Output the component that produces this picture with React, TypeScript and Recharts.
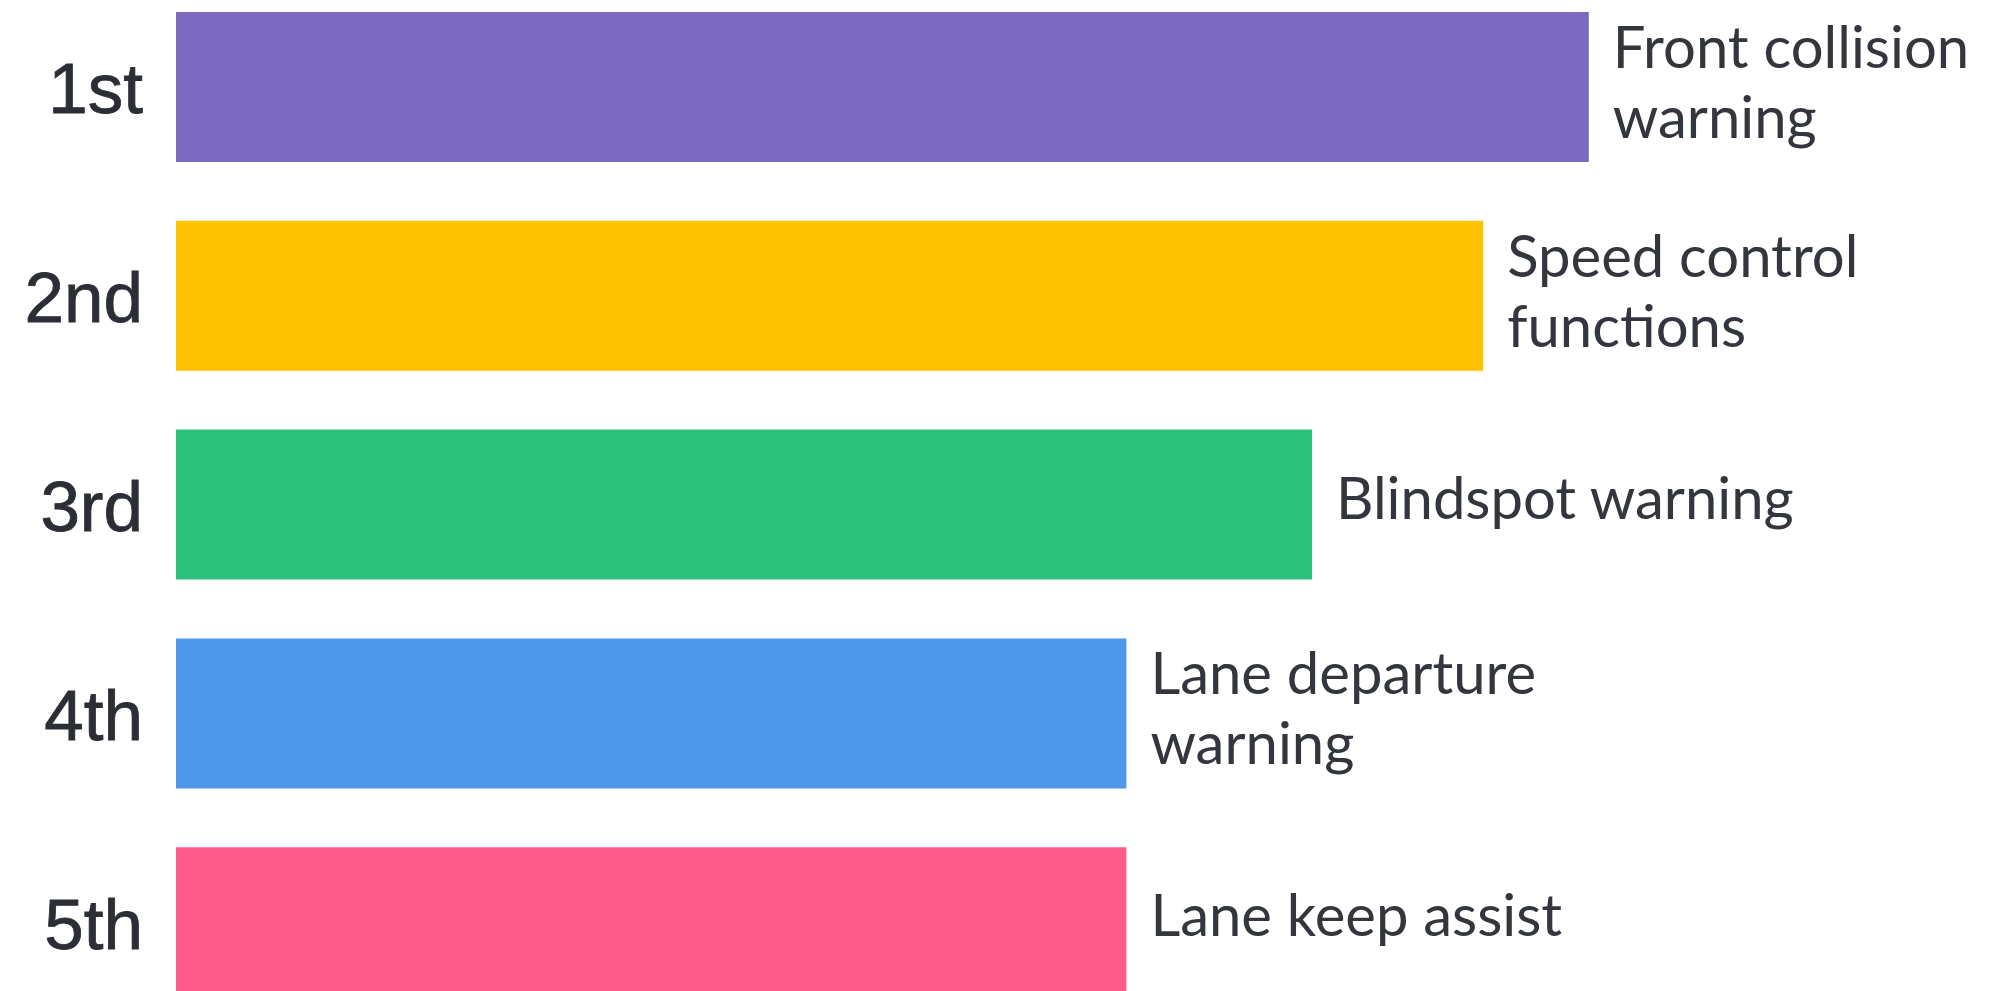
import { Bar, BarChart, Cell, LabelList, XAxis, YAxis } from "recharts";

const ranks = ["1st", "2nd", "3rd", "4th", "5th"];
const features = [
  "Front collision\nwarning",
  "Speed control\nfunctions",
  "Blindspot warning",
  "Lane departure\nwarning",
  "Lane keep assist",
];
const scores = [88.3, 81.7, 71.0, 59.4, 59.4];
const colors = ["#7B69BD", "#FEC200", "#2AC27C", "#4E98EA", "#FE5B8D"];

const data = ranks.map((rank, i) => ({
  rank,
  feature: features[i],
  score: scores[i],
}));

const RankTick = (props: any) => {
  const { x, y, payload } = props;
  return (
    <text
      x={x}
      y={y + 26}
      textAnchor="end"
      fill="#2b2e35"
      stroke="#2b2e35"
      strokeWidth={0.8}
      fontFamily="'Liberation Sans', Arial, sans-serif"
      fontSize={71}
    >
      {payload.value}
    </text>
  );
};

const FeatureLabel = (props: any) => {
  const { x, y, width, height, value } = props;
  const lines = String(value).split("\n");
  const cy = y + height / 2;
  const first = lines.length > 1 ? cy - 19 : cy + 14;
  return (
    <text
      x={x + width + 24}
      y={first}
      fill="#33363d"
      fontFamily="Lato, 'Open Sans', sans-serif"
      fontSize={58}
    >
      {lines.map((line, i) => (
        <tspan key={i} x={x + width + 24} dy={i === 0 ? 0 : 70}>
          {line}
        </tspan>
      ))}
    </text>
  );
};

const App = () => {
  return (
    <div
      style={{
        width: 1985,
        height: 983,
        overflow: "hidden",
        background: "#fff",
      }}
    >
      <div style={{ position: "relative", top: -25 }}>
        <BarChart
          width={1985}
          height={1044}
          data={data}
          layout="vertical"
          margin={{ top: 0, right: 217, bottom: 0, left: 0 }}
        >
          <XAxis type="number" domain={[0, 100]} hide />
          <YAxis
            type="category"
            dataKey="rank"
            width={168}
            axisLine={false}
            tickLine={false}
            tickSize={0}
            tickMargin={33}
            tick={<RankTick />}
          />
          <Bar dataKey="score" barSize={150} isAnimationActive={false}>
            {data.map((d, i) => (
              <Cell key={d.rank} fill={colors[i]} />
            ))}
            <LabelList dataKey="feature" content={<FeatureLabel />} />
          </Bar>
        </BarChart>
      </div>
    </div>
  );
};

export default App;
